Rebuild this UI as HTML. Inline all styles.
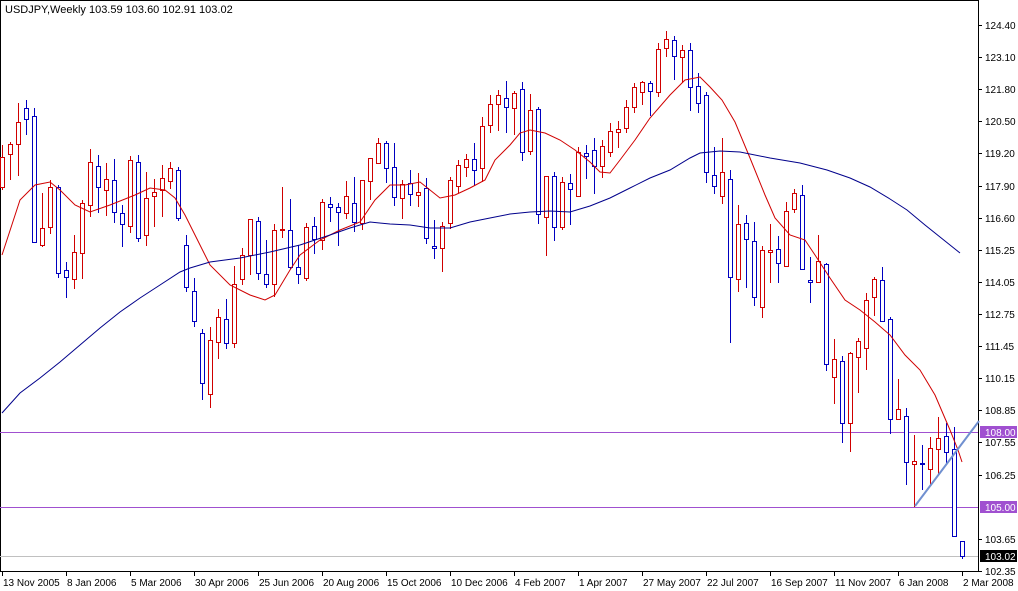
<!DOCTYPE html>
<html><head><meta charset="utf-8"><style>
body{margin:0;background:#fff;width:1018px;height:591px;overflow:hidden}
svg{display:block;font-family:"Liberation Sans",sans-serif;font-size:10px}
</style></head><body>
<svg id="s" width="1018" height="591" xmlns="http://www.w3.org/2000/svg">
<rect x="0" y="0" width="1018" height="591" fill="#fff"/>
<line x1="0.5" y1="0" x2="0.5" y2="572" stroke="#000"/>
<line x1="0" y1="0.5" x2="978" y2="0.5" stroke="#000"/>
<line x1="978.5" y1="0" x2="978.5" y2="572" stroke="#000"/>
<line x1="0" y1="571.5" x2="979" y2="571.5" stroke="#000"/>
<text x="5" y="13" font-size="11">USDJPY,Weekly  103.59 103.60 102.91 103.02</text>
<line x1="0" y1="432.5" x2="978" y2="432.5" stroke="#a050d0"/>
<line x1="0" y1="507.5" x2="978" y2="507.5" stroke="#a050d0"/>
<line x1="0" y1="556.5" x2="978" y2="556.5" stroke="#c0c0c0"/>
<g id="c"></g>
<polyline fill="none" stroke="#d00000" stroke-width="1" points="2,255 20,200 35,185 50,182 60,190 75,205 90,212 110,205 135,195 150,188 165,190 175,198 185,215 195,235 210,265 230,285 250,295 265,300 275,295 290,270 300,255 320,240 340,230 360,222 375,200 390,185 405,185 420,182 430,190 440,198 455,195 470,188 485,180 495,160 510,145 520,133 530,130 545,133 560,140 575,150 590,162 600,172 610,173 620,160 635,140 650,118 670,95 685,80 700,77 710,87 722,100 735,122 750,158 765,195 775,218 790,235 805,240 815,255 830,278 845,300 860,310 875,322 890,335 905,355 920,370 935,395 950,430 958,450 962,462"/>
<polyline fill="none" stroke="#00008b" stroke-width="1" points="2,413 20,393 40,378 60,362 80,345 100,328 120,312 140,298 160,285 180,272 190,268 210,262 240,258 270,252 300,245 330,235 350,228 370,222 390,224 410,225 430,228 450,228 470,222 490,218 510,214 530,212 550,211 570,212 590,206 610,198 630,188 650,178 670,170 690,158 700,153 720,151 740,152 770,158 800,163 827,170 850,178 870,187 890,199 907,210 925,225 940,237 960,253"/>
<line x1="915" y1="506" x2="979" y2="421" stroke="#7090d0" stroke-width="2"/>
<g id="ax"></g>
</svg>
<script>
var D=[[157,187,145,190,'r'],[144,154,142,180,'r'],[122,144,103,176,'r'],[108,119,100,135,'b'],[116,242,108,243,'b'],[228,245,193,247,'r'],[187,227,180,234,'r'],[187,273,185,278,'b'],[270,277,262,298,'b'],[252,279,235,289,'r'],[203,253,200,279,'r'],[162,205,149,217,'r'],[166,187,155,213,'b'],[179,190,163,216,'r'],[180,212,159,223,'b'],[213,224,205,247,'b'],[160,226,156,233,'r'],[162,238,155,242,'b'],[198,235,172,246,'r'],[192,196,179,227,'r'],[178,190,165,217,'r'],[168,181,162,189,'r'],[170,218,167,221,'b'],[245,287,235,292,'b'],[291,321,278,327,'b'],
[333,383,329,400,'b'],[340,394,327,408,'r'],[317,342,309,359,'r'],[319,343,299,349,'b'],[284,343,266,348,'r'],[255,279,248,285,'r'],[219,255,219,275,'r'],[221,273,217,280,'b'],[274,284,240,288,'b'],[230,284,224,297,'r'],[229,230,187,238,'r'],[230,267,199,269,'b'],[267,274,245,284,'b'],[227,278,223,281,'r'],[226,239,217,254,'b'],[202,240,199,250,'r'],[204,207,197,222,'b'],[207,212,203,246,'b'],[196,213,181,219,'r'],[203,222,177,232,'b'],[180,223,180,230,'r'],[158,181,158,200,'r'],[143,163,138,164,'r'],[143,168,141,183,'b'],
[167,197,143,206,'b'],[184,198,180,219,'r'],[183,194,170,206,'b'],[192,195,173,207,'r'],[188,238,178,244,'b'],[246,248,220,259,'b'],[226,248,222,272,'r'],[180,223,177,229,'r'],[165,186,160,193,'r'],[159,167,154,177,'r'],[159,170,143,186,'b'],[126,168,117,182,'r'],[104,125,95,133,'r'],[95,104,90,131,'r'],[98,107,81,133,'b'],[93,108,91,135,'r'],[89,152,82,161,'b'],[110,151,94,155,'r'],[109,214,107,224,'b'],[176,217,176,256,'r'],[176,227,172,241,'b'],[182,227,177,230,'r'],[183,189,174,225,'b'],
[152,196,147,197,'r'],[153,156,145,179,'b'],[150,166,138,194,'b'],[146,166,140,178,'r'],[131,152,123,157,'r'],[129,132,121,148,'r'],[107,128,100,133,'r'],[87,107,83,113,'r'],[82,92,81,105,'r'],[83,91,81,116,'b'],[49,92,43,97,'r'],[39,48,31,57,'r'],[40,56,36,80,'b'],[50,57,45,83,'r'],[50,87,43,111,'b'],[86,103,73,113,'b'],[95,172,92,183,'b'],[175,186,147,194,'b'],[172,196,138,204,'r'],[179,277,170,343,'b'],[224,279,205,292,'r'],[223,239,215,288,'b'],[241,297,222,306,'b'],[250,307,246,318,'r'],
[250,252,224,283,'r'],[249,263,236,283,'b'],[211,266,202,266,'r'],[193,209,189,213,'r'],[195,269,185,270,'b'],[280,282,257,303,'b'],[261,282,235,283,'r'],[264,364,263,371,'b'],[359,377,339,404,'r'],[361,423,356,443,'b'],[353,423,352,452,'r'],[341,357,338,393,'r'],[300,348,293,370,'r'],[279,297,277,316,'r'],[280,321,267,322,'b'],[319,419,317,434,'b'],[409,419,379,420,'r'],[416,462,408,485,'b'],[461,464,435,507,'r'],[463,464,445,490,'b'],[448,469,437,485,'r'],[438,449,417,474,'r'],[436,452,423,463,'b'],[449,536,427,537,'b'],[541,556,541,559,'b']];
var NS='http://www.w3.org/2000/svg',g=document.getElementById('c'),h='';
D.forEach(function(d,i){var x=2+8*i,c=d[4]=='r'?'#d00000':'#0000c0';
h+='<line x1="'+(x+.5)+'" y1="'+d[2]+'" x2="'+(x+.5)+'" y2="'+d[3]+'" stroke="'+c+'"/>';
var hh=Math.max(d[1]-d[0],1);
h+='<rect x="'+(x-1.5)+'" y="'+(d[0]+.5)+'" width="4" height="'+hh+'" fill="#fff" stroke="'+c+'"/>';});
g.innerHTML=h;
var a='',L=[['124.40',25],['123.10',57],['121.80',89],['120.50',121],['119.20',153],['117.90',186],['116.60',218],['115.25',250],['114.05',282],['112.75',314],['111.45',346],['110.15',378],['108.85',410],['107.55',442],['106.25',475],['103.65',539],['102.35',571]];
L.forEach(function(l){a+='<line x1="978" y1="'+(l[1]+.5)+'" x2="982" y2="'+(l[1]+.5)+'" stroke="#000"/><text x="985" y="'+(l[1]+4)+'">'+l[0]+'</text>';});
a+='<rect x="980" y="426" width="37" height="12" fill="#a050d0"/><text x="985" y="436" fill="#fff">108.00</text>';
a+='<rect x="980" y="501" width="37" height="12" fill="#a050d0"/><text x="985" y="511" fill="#fff">105.00</text>';
a+='<rect x="980" y="550" width="37" height="12" fill="#000"/><text x="985" y="560" fill="#fff">103.02</text>';
var T=['13 Nov 2005','8 Jan 2006','5 Mar 2006','30 Apr 2006','25 Jun 2006','20 Aug 2006','15 Oct 2006','10 Dec 2006','4 Feb 2007','1 Apr 2007','27 May 2007','22 Jul 2007','16 Sep 2007','11 Nov 2007','6 Jan 2008','2 Mar 2008'];
T.forEach(function(t,i){var x=2+64*i;a+='<line x1="'+(x+.5)+'" y1="571" x2="'+(x+.5)+'" y2="576" stroke="#000"/><text x="'+(x+1)+'" y="586">'+t+'</text>';});
document.getElementById('ax').innerHTML=a;
</script>
</body></html>
